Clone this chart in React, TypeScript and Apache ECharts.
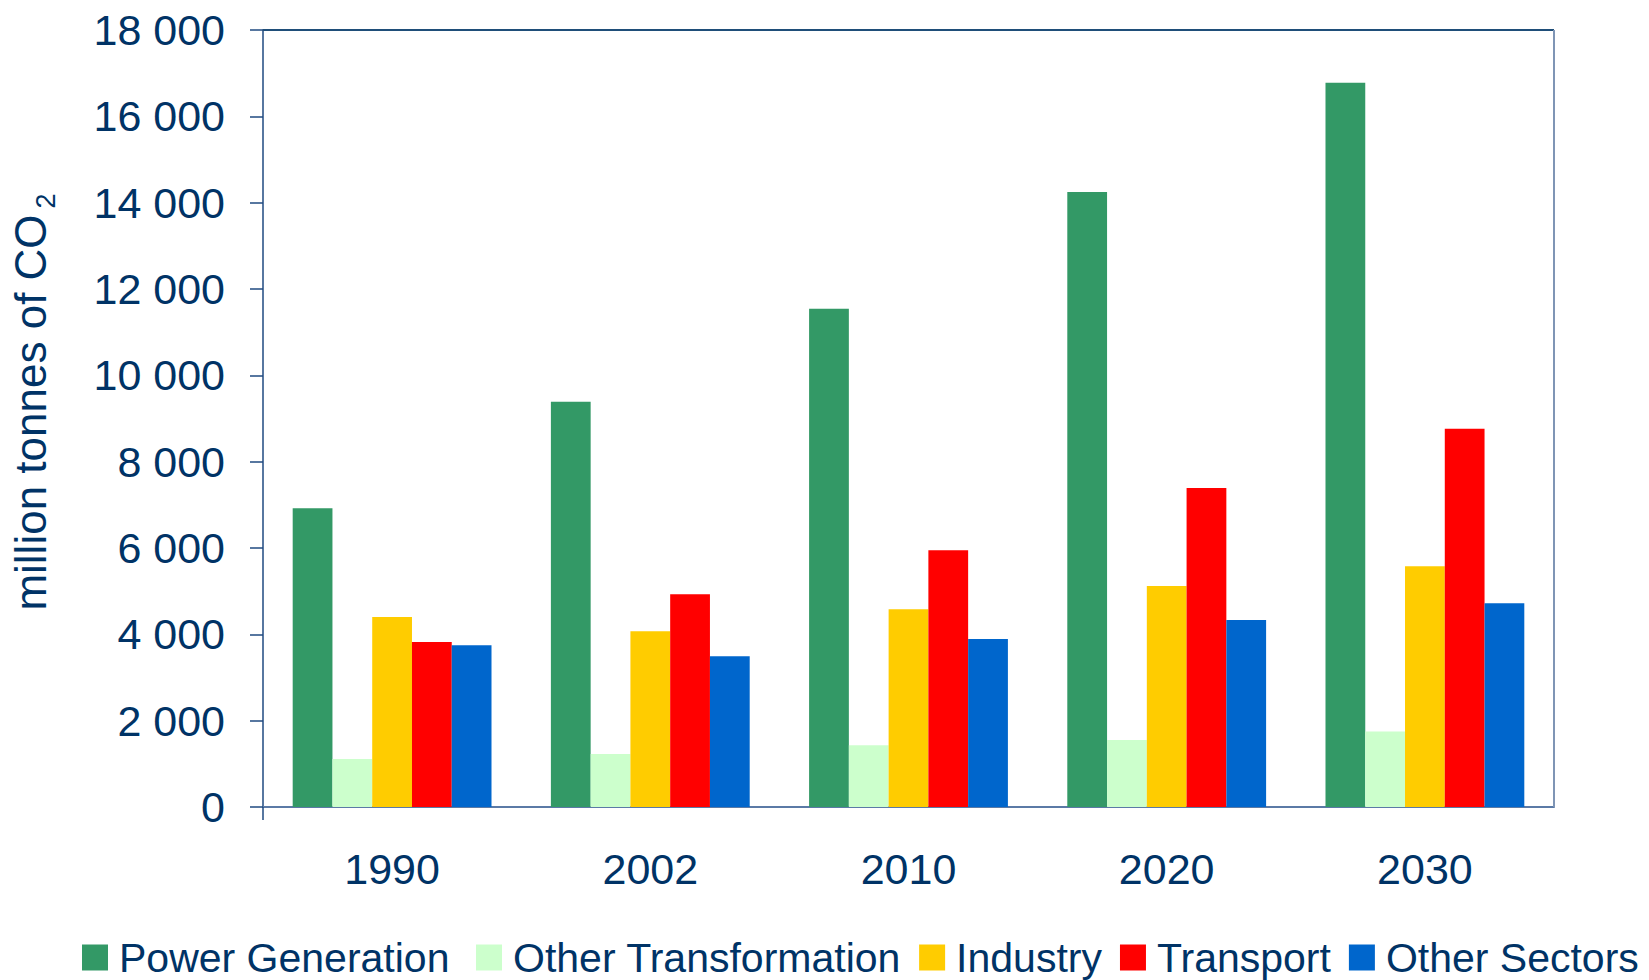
import React, { useEffect, useRef } from "react";
import * as echarts from "echarts";

const years = ["1990", "2002", "2010", "2020", "2030"];
const seriesNames = ["Power Generation", "Other Transformation", "Industry", "Transport", "Other Sectors"];
const powerGeneration = [6920, 9390, 11540, 14250, 16780];
const otherTransformation = [1110, 1230, 1430, 1550, 1750];
const industry = [4400, 4070, 4580, 5120, 5580];
const transport = [3820, 4930, 5950, 7390, 8760];
const otherSectors = [3750, 3490, 3890, 4330, 4720];
const seriesColors = ["#339966", "#CCFFCC", "#FFCC00", "#FF0000", "#0066CC"];
const yMax = 18000;
const yInterval = 2000;

const W = 1649;
const H = 980;
const GL = 263;
const GR = 95;
const GT = 30;
const GB = 173;
const FONT = "'Liberation Sans', Arial, sans-serif";
const NAVY = "#003366";
const AXIS = "#1F4A80";

export default function App() {
  const ref = useRef<HTMLDivElement>(null);
  useEffect(() => {
    if (!ref.current) return;
    const chart = echarts.init(ref.current, null, { renderer: "svg" });
    const values = [powerGeneration, otherTransformation, industry, transport, otherSectors];
    const right = W - GR;
    const bottom = H - GB;
    const legendText = { fontSize: 41, color: NAVY, fontFamily: FONT, padding: [0, 0, 0, 6] };
    chart.setOption({
      animation: false,
      backgroundColor: "#ffffff",
      textStyle: { fontFamily: FONT },
      grid: { left: GL, right: GR, top: GT, bottom: GB, containLabel: false },
      legend: [
        {
          data: [seriesNames[0]],
          left: 82,
          top: 937,
          padding: 0,
          itemWidth: 26,
          itemHeight: 26,
          icon: "rect",
          textStyle: legendText,
        },
        {
          data: seriesNames.slice(1),
          left: 476,
          top: 937,
          padding: 0,
          itemGap: 18,
          itemWidth: 26,
          itemHeight: 26,
          icon: "rect",
          textStyle: legendText,
        },
      ],
      xAxis: {
        type: "category",
        data: years,
        axisLine: { show: true, lineStyle: { color: "#5B7AA6", width: 2 } },
        axisTick: { show: false },
        axisLabel: { fontSize: 43, color: NAVY, margin: 40, fontFamily: FONT },
      },
      yAxis: {
        type: "value",
        min: 0,
        max: yMax,
        interval: yInterval,
        axisLine: { show: true, lineStyle: { color: AXIS, width: 1.5 } },
        axisTick: { show: true, inside: false, length: 13, lineStyle: { color: AXIS, width: 1.5 } },
        splitLine: { show: false },
        axisLabel: {
          fontSize: 43,
          color: NAVY,
          margin: 38,
          fontFamily: FONT,
          formatter: (v: number) => String(v).replace(/\B(?=(\d{3})+(?!\d))/g, " "),
        },
      },
      graphic: [
        {
          type: "line",
          shape: { x1: GL, y1: GT, x2: right, y2: GT },
          style: { stroke: "#1F4E79", lineWidth: 2 },
          z: 10,
        },
        {
          type: "line",
          shape: { x1: right, y1: GT, x2: right, y2: bottom },
          style: { stroke: "#7F95B5", lineWidth: 2 },
          z: 10,
        },
        {
          type: "line",
          shape: { x1: GL, y1: bottom, x2: GL, y2: bottom + 13 },
          style: { stroke: AXIS, lineWidth: 1.5 },
          z: 10,
        },
        {
          type: "text",
          x: 30,
          y: 402,
          rotation: Math.PI / 2,
          style: {
            text: "{a|million tonnes of CO}{b|2}",
            align: "center",
            verticalAlign: "middle",
            fill: NAVY,
            rich: {
              a: { fontSize: 44, fontFamily: FONT, fill: NAVY, color: NAVY },
              b: { fontSize: 27, fontFamily: FONT, fill: NAVY, color: NAVY, padding: [32, 0, 0, 6] },
            },
          },
        },
      ],
      series: seriesNames.map((name, i) => ({
        name,
        type: "bar",
        data: values[i],
        barGap: "0%",
        barCategoryGap: "23%",
        itemStyle: { color: seriesColors[i] },
      })),
    });
    return () => chart.dispose();
  }, []);
  return (
    <div
      ref={ref}
      style={{ position: "absolute", left: 0, top: 0, width: W, height: H, background: "#fff" }}
    />
  );
}
